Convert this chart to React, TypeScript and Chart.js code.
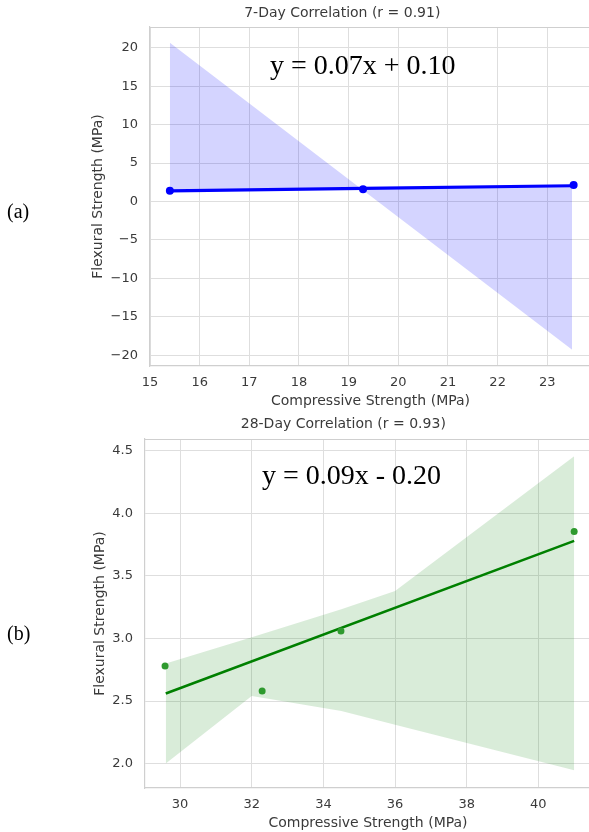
import React, { useEffect, useRef } from "react";
import { Chart, registerables } from "chart.js";

Chart.register(...registerables);

// ---------- 7-day data ----------
const day7Compressive = [15.4, 19.29, 23.53];
const day7Flexural = [1.4, 1.58, 2.14];
const day7FitX = [15.4, 19.29, 23.5];
const day7FitY = [1.38, 1.7, 2.05];
const day7BandEdge = [20.65, 1.46, -19.3];
const day7XTicks = [15, 16, 17, 18, 19, 20, 21, 22, 23];
const day7YTicks = [-20, -15, -10, -5, 0, 5, 10, 15, 20];

// ---------- 28-day data ----------
const day28Compressive = [29.58, 32.29, 34.49, 41.0];
const day28Flexural = [2.78, 2.58, 3.06, 3.855];
const day28FitX = [29.6, 41.0];
const day28FitY = [2.56, 3.78];
const day28BandX = [29.6, 32.0, 34.5, 36.0, 41.0];
const day28BandUpper = [2.8, 3.01, 3.233, 3.38, 4.457];
const day28BandLower = [2.0, 2.54, 2.42, 2.31, 1.947];
const day28XTicks = [30, 32, 34, 36, 38, 40];
const day28YTicks = [2.0, 2.5, 3.0, 3.5, 4.0, 4.5];

const TEXT = "#3a3a3a";
const GRID = "#dedede";
const SPINE = "#cfcfcf";
const CANVAS_W = 595;

const pts = (xs: number[], ys: number[]) => xs.map((x, i) => ({ x, y: ys[i] }));

const framePlugin = {
  id: "frameTop",
  beforeDatasetsDraw(chart: any) {
    const { ctx, chartArea } = chart;
    ctx.save();
    ctx.strokeStyle = SPINE;
    ctx.lineWidth = 1;
    ctx.beginPath();
    ctx.moveTo(chartArea.left, Math.round(chartArea.top) + 0.5);
    ctx.lineTo(chartArea.right, Math.round(chartArea.top) + 0.5);
    ctx.stroke();
    ctx.restore();
  },
};

interface Cfg {
  title: string;
  datasets: any[];
  xMin: number;
  xMax: number;
  yMin: number;
  yMax: number;
  xTicks: number[];
  yTicks: number[];
  yFmt: (v: number) => string;
  padLeft: number;
  yAxisWidth: number;
  titlePadTop: number;
  titlePadBottom: number;
}

function buildConfig(c: Cfg): any {
  return {
    type: "scatter",
    data: { datasets: c.datasets },
    options: {
      animation: false,
      responsive: false,
      maintainAspectRatio: false,
      layout: { padding: { left: c.padLeft, right: 0, top: 0, bottom: 0 } },
      plugins: {
        legend: { display: false },
        tooltip: { enabled: false },
        title: {
          display: true,
          text: c.title,
          color: TEXT,
          font: { family: "DejaVu Sans", size: 14, weight: "normal" },
          padding: { top: c.titlePadTop, bottom: c.titlePadBottom },
        },
      },
      scales: {
        x: {
          type: "linear",
          min: c.xMin,
          max: c.xMax,
          afterBuildTicks: (s: any) => {
            s.ticks = c.xTicks.map((v) => ({ value: v }));
          },
          afterFit: (s: any) => {
            s.height = 44;
          },
          grid: { color: GRID, lineWidth: 1, drawTicks: false },
          border: { color: SPINE, width: 1.2 },
          ticks: {
            color: TEXT,
            padding: 9,
            font: { family: "DejaVu Sans", size: 13 },
            maxRotation: 0,
            callback: (v: any) => String(v),
          },
          title: {
            display: true,
            text: "Compressive Strength (MPa)",
            color: TEXT,
            font: { family: "DejaVu Sans", size: 14 },
            padding: { top: 3, bottom: 0 },
          },
        },
        y: {
          type: "linear",
          min: c.yMin,
          max: c.yMax,
          afterBuildTicks: (s: any) => {
            s.ticks = c.yTicks.map((v) => ({ value: v }));
          },
          afterFit: (s: any) => {
            s.width = c.yAxisWidth;
          },
          grid: { color: GRID, lineWidth: 1, drawTicks: false },
          border: { color: SPINE, width: 1.2 },
          ticks: {
            color: TEXT,
            padding: 12,
            font: { family: "DejaVu Sans", size: 13 },
            callback: (v: any) => c.yFmt(Number(v)),
          },
          title: {
            display: true,
            text: "Flexural Strength (MPa)",
            color: TEXT,
            font: { family: "DejaVu Sans", size: 14 },
            padding: { top: 0, bottom: 0 },
          },
        },
      },
    },
    plugins: [framePlugin],
  };
}

const topCfg: Cfg = {
  title: "7-Day Correlation (r = 0.91)",
  datasets: [
    {
      label: "fit",
      data: pts(day7FitX, day7FitY),
      showLine: true,
      borderColor: "#0000ff",
      borderWidth: 3.2,
      pointRadius: 0,
      fill: false,
      order: 1,
    },
    {
      label: "band",
      data: pts(day7FitX, day7BandEdge),
      showLine: true,
      borderWidth: 0,
      borderColor: "rgba(0,0,0,0)",
      pointRadius: 0,
      backgroundColor: "rgba(0,0,255,0.17)",
      fill: { target: 0 },
      order: 2,
    },
    {
      label: "points",
      data: pts(day7Compressive, day7Flexural),
      pointRadius: 4,
      pointBackgroundColor: "#0000ff",
      pointBorderWidth: 0,
      borderColor: "#0000ff",
      order: 0,
    },
  ],
  xMin: 15.0,
  xMax: 23.88,
  yMin: -21.4,
  yMax: 22.7,
  xTicks: day7XTicks,
  yTicks: day7YTicks,
  yFmt: (v) => (v < 0 ? "\u2212" + Math.abs(v) : String(v)),
  padLeft: 89.6,
  yAxisWidth: 60.4,
  titlePadTop: 5.2,
  titlePadBottom: 5.0,
};

const bottomCfg: Cfg = {
  title: "28-Day Correlation (r = 0.93)",
  datasets: [
    {
      label: "fit",
      data: pts(day28FitX, day28FitY),
      showLine: true,
      borderColor: "#008000",
      borderWidth: 2.6,
      pointRadius: 0,
      fill: false,
      order: 1,
    },
    {
      label: "upper",
      data: pts(day28BandX, day28BandUpper),
      showLine: true,
      borderWidth: 0,
      borderColor: "rgba(0,0,0,0)",
      pointRadius: 0,
      backgroundColor: "rgba(0,128,0,0.15)",
      fill: { target: 2 },
      order: 2,
    },
    {
      label: "lower",
      data: pts(day28BandX, day28BandLower),
      showLine: true,
      borderWidth: 0,
      borderColor: "rgba(0,0,0,0)",
      pointRadius: 0,
      fill: false,
      order: 3,
    },
    {
      label: "points",
      data: pts(day28Compressive, day28Flexural),
      pointRadius: 3.5,
      pointBackgroundColor: "#2e9a2e",
      pointBorderWidth: 0,
      borderColor: "#2e9a2e",
      order: 0,
    },
  ],
  xMin: 29.02,
  xMax: 41.47,
  yMin: 1.805,
  yMax: 4.594,
  xTicks: day28XTicks,
  yTicks: day28YTicks,
  yFmt: (v) => v.toFixed(1),
  padLeft: 91.6,
  yAxisWidth: 53.4,
  titlePadTop: 3.6,
  titlePadBottom: 6.6,
};

function ChartCanvas({ cfg, top, height }: { cfg: Cfg; top: number; height: number }) {
  const ref = useRef<HTMLCanvasElement | null>(null);
  useEffect(() => {
    if (!ref.current) return;
    const chart = new Chart(ref.current, buildConfig(cfg));
    return () => chart.destroy();
  }, [cfg]);
  return (
    <div style={{ position: "absolute", left: 0, top, width: 589, height, overflow: "hidden" }}>
      <canvas ref={ref} width={CANVAS_W} height={height} style={{ width: CANVAS_W, height, display: "block" }} />
    </div>
  );
}

const serif = '"Liberation Serif", "Times New Roman", serif';

export default function App() {
  return (
    <div
      style={{
        position: "absolute",
        left: 0,
        top: 0,
        width: 589,
        height: 832,
        background: "#fff",
        overflow: "hidden",
      }}
    >
      <ChartCanvas cfg={topCfg} top={0} height={410} />
      <ChartCanvas cfg={bottomCfg} top={412} height={420} />
      <div style={{ position: "absolute", left: 270, top: 50.5, fontFamily: serif, fontSize: 28, lineHeight: 1, color: "#000", whiteSpace: "pre" }}>
        y = 0.07x + 0.10
      </div>
      <div style={{ position: "absolute", left: 262, top: 460.5, fontFamily: serif, fontSize: 28, lineHeight: 1, color: "#000", whiteSpace: "pre" }}>
        y = 0.09x - 0.20
      </div>
      <div style={{ position: "absolute", left: 7, top: 201, fontFamily: serif, fontSize: 20, lineHeight: 1, color: "#000" }}>
        (a)
      </div>
      <div style={{ position: "absolute", left: 7, top: 623, fontFamily: serif, fontSize: 20, lineHeight: 1, color: "#000" }}>
        (b)
      </div>
    </div>
  );
}
